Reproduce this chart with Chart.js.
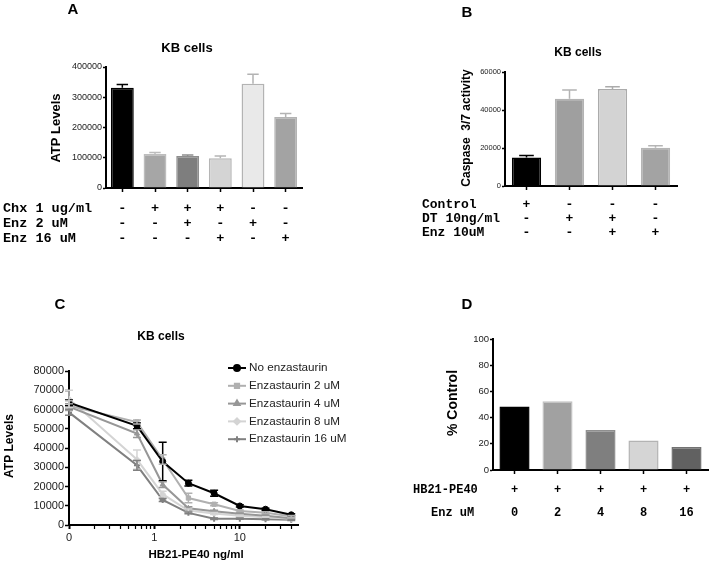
<!DOCTYPE html>
<html>
<head>
<meta charset="utf-8">
<script src="https://cdn.jsdelivr.net/npm/chart.js@4.4.1/dist/chart.umd.min.js"></script>
<style>
body { margin: 0; background: #fff; }
#wrap { position: relative; width: 712px; height: 565px; }
canvas { position: absolute; }
</style>
</head>
<body>
<div id="wrap">
  <canvas id="chartA" width="360" height="290" style="left:0;top:0"></canvas>
  <canvas id="chartB" width="352" height="290" style="left:360px;top:0"></canvas>
  <canvas id="chartC" width="360" height="275" style="left:0;top:290px"></canvas>
  <canvas id="chartD" width="352" height="275" style="left:360px;top:290px"></canvas>
</div>
<script>
// ---- data ----
// A: ATP levels, KB cells
const aValues = [331000, 112000, 106000, 98500, 345000, 235000];
const aErrors = [11000, 5500, 3000, 7500, 31000, 11000];
const aRowLabels = ['Chx 1 ug/ml', 'Enz 2 uM', 'Enz 16 uM'];
const aChx   = ['-', '+', '+', '+', '-', '-'];
const aEnz2  = ['-', '-', '+', '-', '+', '-'];
const aEnz16 = ['-', '-', '-', '+', '-', '+'];

// B: caspase 3/7 activity
const bValues = [15000, 45900, 51000, 20100];
const bErrors = [1100, 4600, 1200, 1100];
const bRowLabels = ['Control', 'DT 10ng/ml', 'Enz 10uM'];
const bControl = ['+', '-', '-', '-'];
const bDT      = ['-', '+', '+', '-'];
const bEnz     = ['-', '-', '+', '+'];

// C: dose response (HB21-PE40 ng/ml, 0 is drawn at the left end of the log axis)
const cDoses = [0, 0.625, 1.25, 2.5, 5, 10, 20, 40];
const cSeriesNames = ['No enzastaurin', 'Enzastaurin 2 uM', 'Enzastaurin 4 uM', 'Enzastaurin 8 uM', 'Enzastaurin 16 uM'];
const cNoEnz = [63500, 51500, 33000, 21700, 16500, 9900, 8200, 5300];
const cEnz2  = [62000, 53500, 34000, 14000, 10800, 7300, 6400, 4500];
const cEnz4  = [61500, 47500, 21000, 8700, 7200, 5800, 4800, 3500];
const cEnz8  = [65500, 34000, 16000, 7500, 6000, 4800, 4000, 3200];
const cEnz16 = [58500, 31000, 13000, 6300, 3300, 3300, 3000, 2700];
const cErrNoEnz = [1500, 1500, 10000, 1500, 1500, 600, 500, 500];
const cErrEnz2  = [2500, 1000, 2500, 2500, 800, 500, 500, 500];
const cErrEnz4  = [1500, 2000, 1500, 800, 500, 400, 400, 300];
const cErrEnz8  = [4500, 5000, 1500, 800, 500, 400, 300, 300];
const cErrEnz16 = [1500, 2500, 800, 500, 400, 300, 300, 300];
const cTickValues = [0.1, 0.2, 0.3, 0.4, 0.5, 0.6, 0.7, 0.8, 0.9, 1, 2, 3, 4, 5, 6, 7, 8, 9, 10, 20, 30, 40];
const cTickLabels = { '0.1': '0', '1': '1', '10': '10' };

// D: % control
const dValues = [48.5, 52.5, 30.5, 22.5, 17.5];
const dRowLabels = ['HB21-PE40', 'Enz uM'];
const dHB = ['+', '+', '+', '+', '+'];
const dEnz = ['0', '2', '4', '8', '16'];

// ---- styles ----
const SANS = '"Liberation Sans", Arial, Helvetica, sans-serif';
const MONO = '"Liberation Mono", "Courier New", monospace';
Chart.defaults.font.family = SANS;
Chart.defaults.color = '#222';

// error bars: bars get an upward bar, line points get both directions
const errorBars = {
    id: 'errorBars',
    afterDatasetsDraw(chart) {
        const ctx = chart.ctx;
        const yScale = chart.scales.y;
        chart.data.datasets.forEach((ds, di) => {
            if (!ds.errors) return;
            const meta = chart.getDatasetMeta(di);
            const isBar = meta.type === 'bar';
            meta.data.forEach((el, i) => {
                const err = ds.errors[i];
                if (!err) return;
                const raw = ds.data[i];
                const val = typeof raw === 'object' ? raw.y : raw;
                const col = Array.isArray(ds.borderColor) ? ds.borderColor[i] : ds.borderColor;
                const yHi = yScale.getPixelForValue(val + err);
                const yLo = isBar ? el.y : yScale.getPixelForValue(val - err);
                const half = isBar ? el.width / 4 : 4;
                ctx.save();
                ctx.strokeStyle = col;
                ctx.lineWidth = 1.5;
                ctx.beginPath();
                ctx.moveTo(el.x, yLo);
                ctx.lineTo(el.x, yHi);
                ctx.moveTo(el.x - half, yHi);
                ctx.lineTo(el.x + half, yHi);
                if (!isBar) {
                    ctx.moveTo(el.x - half, yLo);
                    ctx.lineTo(el.x + half, yLo);
                }
                ctx.stroke();
                ctx.restore();
            });
        });
    }
};

// letters, titles, +/- rows and the custom legend
function panelText(t) {
    return {
        id: 'panelText',
        afterDraw(chart) {
            const ctx = chart.ctx;
            ctx.save();
            ctx.fillStyle = '#000';
            ctx.textBaseline = 'middle';
            ctx.textAlign = 'center';
            ctx.font = 'bold 15px ' + SANS;
            ctx.fillText(t.letter, t.letterX, t.letterY);
            if (t.title) {
                ctx.font = 'bold ' + t.titleSize + 'px ' + SANS;
                ctx.fillText(t.title, t.titleX, t.titleY);
            }
            if (t.xTitle) {
                ctx.font = 'bold ' + t.xTitleSize + 'px ' + SANS;
                ctx.fillText(t.xTitle, t.xTitleX, t.xTitleY);
            }
            ctx.save();
            ctx.translate(t.yTitleX, t.yTitleY);
            ctx.rotate(-Math.PI / 2);
            ctx.font = 'bold ' + t.yTitleSize + 'px ' + SANS;
            ctx.fillText(t.yTitle, 0, 0);
            ctx.restore();

            if (t.rows) {
                const xs = chart.scales.x;
                ctx.font = 'bold ' + t.rowSize + 'px ' + MONO;
                t.rows.forEach(r => {
                    ctx.textAlign = 'left';
                    ctx.fillText(r.label, r.x, r.y);
                    ctx.textAlign = 'center';
                    r.marks.forEach((m, i) => ctx.fillText(m, xs.getPixelForValue(i), r.y));
                });
            }

            if (t.legend) {
                const L = t.legend;
                ctx.font = L.size + 'px ' + SANS;
                ctx.textAlign = 'left';
                chart.data.datasets.forEach((ds, i) => {
                    const y = L.y + i * L.gap;
                    ctx.strokeStyle = ds.borderColor;
                    ctx.fillStyle = ds.borderColor;
                    ctx.lineWidth = 2;
                    ctx.beginPath();
                    ctx.moveTo(L.x, y);
                    ctx.lineTo(L.x + L.len, y);
                    ctx.stroke();
                    Chart.helpers.drawPoint(ctx, {
                        pointStyle: ds.pointStyle, rotation: 0,
                        radius: ds.pointRadius, borderWidth: 1.5
                    }, L.x + L.len / 2, y);
                    ctx.fillStyle = '#222';
                    ctx.fillText(ds.label, L.x + L.len + 3, y);
                });
            }
            ctx.restore();
        }
    };
}

function barPanel(id, o) {
    const canvas = document.getElementById(id);
    const W = canvas.width, H = canvas.height;
    return new Chart(canvas, {
        type: 'bar',
        data: {
            labels: o.values.map((v, i) => String(i)),
            datasets: [{
                data: o.values,
                errors: o.errors,
                backgroundColor: o.fills,
                borderColor: o.borders,
                borderWidth: 1.5,
                barPercentage: o.barPct,
                categoryPercentage: 1
            }]
        },
        options: {
            responsive: false,
            animation: false,
            events: [],
            layout: { padding: { left: 0, top: o.area.top, right: W - o.area.right, bottom: H - o.area.bottom - 8 } },
            plugins: { legend: { display: false }, tooltip: { enabled: false } },
            scales: {
                x: {
                    ticks: { display: false },
                    grid: { drawOnChartArea: false, offset: false, tickLength: 4, tickColor: '#000', tickWidth: 1.5 },
                    border: { color: '#000', width: 2 },
                    afterFit: s => { s.height = 8; }
                },
                y: {
                    min: 0, max: o.max,
                    ticks: { stepSize: o.step, font: { size: o.tickSize }, color: '#222', padding: 1, callback: v => String(v) },
                    grid: { drawOnChartArea: false, tickLength: 3, tickColor: '#000', tickWidth: 1.5 },
                    border: { color: '#000', width: 2 },
                    afterFit: s => { s.width = o.area.left; }
                }
            }
        },
        plugins: [errorBars, panelText(o.text)]
    });
}

// ---- A ----
barPanel('chartA', {
    values: aValues, errors: aErrors,
    fills: ['#000000', '#a6a6a6', '#7e7e7e', '#d4d4d4', '#e9e9e9', '#a3a3a3'],
    borders: ['#000000', '#bdbdbd', '#8e8e8e', '#b5b5b5', '#b3b3b3', '#b3b3b3'],
    barPct: 0.7, max: 400000, step: 100000, tickSize: 9,
    area: { left: 106, top: 67, right: 302, bottom: 188 },
    text: {
        letter: 'A', letterX: 73, letterY: 10,
        title: 'KB cells', titleSize: 13, titleX: 187, titleY: 48,
        yTitle: 'ATP Levels', yTitleSize: 13, yTitleX: 56, yTitleY: 128,
        rowSize: 13.5,
        rows: [
            { label: aRowLabels[0], marks: aChx, x: 3, y: 209 },
            { label: aRowLabels[1], marks: aEnz2, x: 3, y: 224 },
            { label: aRowLabels[2], marks: aEnz16, x: 3, y: 239 }
        ]
    }
});

// ---- B ----
barPanel('chartB', {
    values: bValues, errors: bErrors,
    fills: ['#000000', '#9f9f9f', '#d3d3d3', '#a3a3a3'],
    borders: ['#000000', '#b3b3b3', '#ababab', '#b5b5b5'],
    barPct: 0.68, max: 60000, step: 20000, tickSize: 7.5,
    area: { left: 145, top: 72, right: 317, bottom: 186 },
    text: {
        letter: 'B', letterX: 107, letterY: 13,
        title: 'KB cells', titleSize: 12, titleX: 218, titleY: 53,
        yTitle: 'Caspase  3/7 activity', yTitleSize: 12, yTitleX: 107, yTitleY: 128,
        rowSize: 13,
        rows: [
            { label: bRowLabels[0], marks: bControl, x: 62, y: 205 },
            { label: bRowLabels[1], marks: bDT, x: 62, y: 219 },
            { label: bRowLabels[2], marks: bEnz, x: 62, y: 233 }
        ]
    }
});

// ---- D ----
barPanel('chartD', {
    values: dValues, errors: null,
    fills: ['#000000', '#a1a1a1', '#7f7f7f', '#d5d5d5', '#616161'],
    borders: ['#000000', '#c2c2c2', '#8f8f8f', '#b3b3b3', '#727272'],
    barPct: 0.7, max: 100, step: 20, tickSize: 9.5,
    area: { left: 133, top: 49, right: 348, bottom: 180 },
    text: {
        letter: 'D', letterX: 107, letterY: 15,
        yTitle: '% Control', yTitleSize: 14, yTitleX: 93, yTitleY: 113,
        rowSize: 12,
        rows: [
            { label: dRowLabels[0], marks: dHB, x: 53, y: 200 },
            { label: dRowLabels[1], marks: dEnz, x: 71, y: 223 }
        ]
    }
});

// ---- C ----
const cMinX = cTickValues[0];
function cPoints(series) {
    return cDoses.map((d, i) => ({ x: d === 0 ? cMinX : d, y: series[i] }));
}
const cSeries = [cNoEnz, cEnz2, cEnz4, cEnz8, cEnz16];
const cErrors = [cErrNoEnz, cErrEnz2, cErrEnz4, cErrEnz8, cErrEnz16];
const cColors = ['#000000', '#b0b0b0', '#979797', '#d4d4d4', '#808080'];
const cStyles = ['circle', 'rect', 'triangle', 'rectRot', 'cross'];

const cCanvas = document.getElementById('chartC');
new Chart(cCanvas, {
    type: 'scatter',
    data: {
        datasets: cSeries.map((s, i) => ({
            label: cSeriesNames[i],
            data: cPoints(s),
            errors: cErrors[i],
            showLine: true,
            borderColor: cColors[i],
            backgroundColor: cColors[i],
            borderWidth: 2,
            pointStyle: cStyles[i],
            pointRadius: 3,
            pointBorderWidth: i === 4 ? 2 : 1,
            tension: 0
        }))
    },
    options: {
        responsive: false,
        animation: false,
        events: [],
        layout: { padding: { left: 0, top: 81, right: 360 - 298, bottom: 275 - 235 - 20 } },
        plugins: { legend: { display: false }, tooltip: { enabled: false } },
        scales: {
            x: {
                type: 'logarithmic',
                min: cMinX, max: 48,
                afterBuildTicks: s => { s.ticks = cTickValues.map(v => ({ value: v })); },
                ticks: {
                    autoSkip: false, maxRotation: 0, font: { size: 11 }, color: '#222', padding: 2,
                    callback: v => cTickLabels[String(v)] || ''
                },
                grid: {
                    drawOnChartArea: false, tickLength: 4, tickColor: '#000',
                    tickWidth: c => (c.tick && cTickLabels[String(c.tick.value)]) ? 2 : 1.2
                },
                border: { color: '#000', width: 2 },
                afterFit: s => { s.height = 20; }
            },
            y: {
                min: 0, max: 80000,
                ticks: { stepSize: 10000, font: { size: 11 }, color: '#222', padding: 1, callback: v => String(v) },
                grid: { drawOnChartArea: false, tickLength: 4, tickColor: '#000', tickWidth: 1.5 },
                border: { color: '#000', width: 2 },
                afterFit: s => { s.width = 69; }
            }
        }
    },
    plugins: [errorBars, panelText({
        letter: 'C', letterX: 60, letterY: 15,
        title: 'KB cells', titleSize: 12, titleX: 161, titleY: 47,
        xTitle: 'HB21-PE40 ng/ml', xTitleSize: 11.5, xTitleX: 196, xTitleY: 265,
        yTitle: 'ATP Levels', yTitleSize: 12, yTitleX: 10, yTitleY: 156,
        legend: { x: 228, y: 78, gap: 17.8, len: 18, size: 11.7 }
    })]
});
</script>
</body>
</html>
